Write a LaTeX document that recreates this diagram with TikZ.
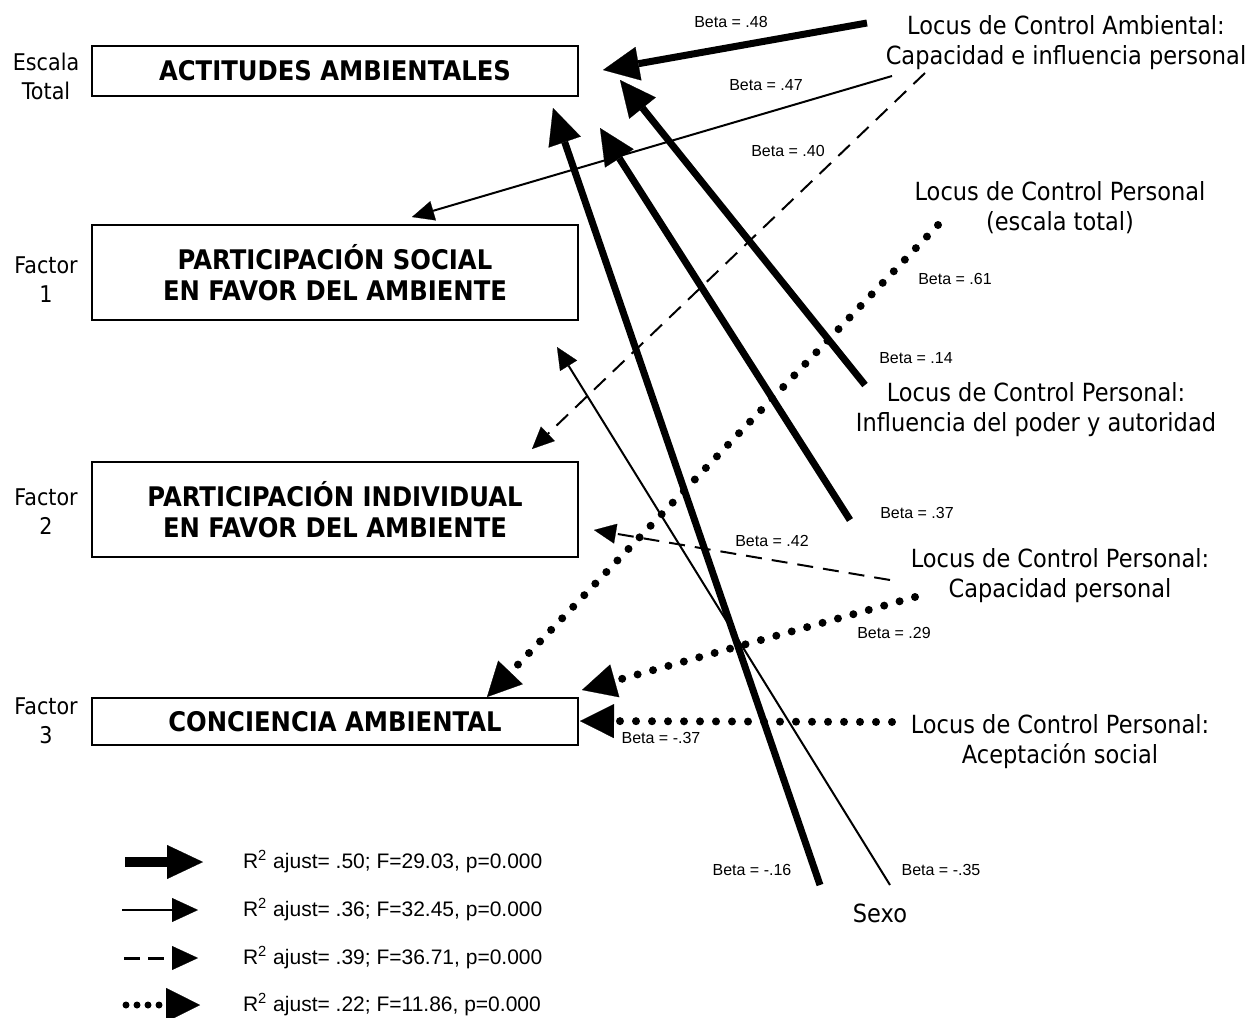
\documentclass[tikz,border=0pt]{standalone}
\usepackage{fontspec}
\setmainfont{DejaVu Sans}[FakeStretch=0.9]
\newfontfamily\arialfont{Liberation Sans}
\usetikzlibrary{arrows.meta}

\begin{document}
\begin{tikzpicture}[x=0.5pt,y=-0.5pt,
  box/.style={draw,line width=1pt,minimum width=243pt,inner sep=0pt,align=center,
    font=\fontsize{13.5}{15.5}\selectfont\bfseries},
  lbl/.style={align=center,font=\fontsize{11.5}{14.5}\selectfont},
  locus/.style={align=center,font=\fontsize{12.5}{15}\selectfont},
  beta/.style={font=\arialfont\fontsize{8}{9}\selectfont},
  leyenda/.style={anchor=west,font=\arialfont\fontsize{10.5}{12}\selectfont},
  gruesa/.style={line width=3.5pt,-{Triangle[length=18pt,width=17pt,line width=0.1pt]}},
  fina/.style={line width=1pt,-{Triangle[length=11pt,width=10pt,line width=0.1pt]}},
  rayas/.style={fina,dash pattern=on 8pt off 5pt},
  puntos/.style={line width=4pt,line cap=round,dash pattern=on 0pt off 8pt,
    -{Triangle[length=17pt,width=17pt,line width=0.1pt]}}
  ]
\useasboundingbox (0,0) rectangle (1250,1018);
%\draw[help lines,step=50] (0,0) grid (1250,1018);

% variables dependientes
\node[box,minimum height=25pt] (actitudes) at (335,71) {ACTITUDES AMBIENTALES};
\node[box,minimum height=47.5pt] (social) at (335,272.5)
  {PARTICIPACIÓN SOCIAL\\EN FAVOR DEL AMBIENTE};
\node[box,minimum height=47.5pt] (individual) at (335,509.5)
  {PARTICIPACIÓN INDIVIDUAL\\EN FAVOR DEL AMBIENTE};
\node[box,minimum height=23.5pt] (conciencia) at (335,721.5) {CONCIENCIA AMBIENTAL};

\node[lbl] (escala) at (46,76) {Escala\\Total};
\node[lbl] (f1) at (46,280) {Factor\\1};
\node[lbl] (f2) at (46,512) {Factor\\2};
\node[lbl] (f3) at (46,721) {Factor\\3};

% predictores
\node[locus] (lcamb) at (1066,43) {Locus de Control Ambiental:\\Capacidad e influencia personal};
\node[locus] (lcpers) at (1060,208) {Locus de Control Personal\\(escala total)};
\node[locus] (lcpoder) at (1036,410) {Locus de Control Personal:\\Influencia del poder y autoridad};
\node[locus] (lccap) at (1060,576) {Locus de Control Personal:\\Capacidad personal};
\node[locus] (lcacep) at (1060,742) {Locus de Control Personal:\\Aceptación social};
\node[locus] (sexo) at (880,913) {Sexo};

% extremos de las flechas
\coordinate (a1) at (867,23);   \coordinate (t1) at (603,70);
\coordinate (a2) at (892,76);   \coordinate (t2) at (412,217);
\coordinate (a3) at (925,73);   \coordinate (t3) at (532,449);
\coordinate (a4) at (938,225);  \coordinate (t4) at (487,697);
\coordinate (a5) at (865,385);  \coordinate (t5) at (620,80);
\coordinate (a6) at (850,520);  \coordinate (t6) at (600,128);
\coordinate (a7) at (820,885);  \coordinate (t7) at (553,108);
\coordinate (a8) at (890,885);  \coordinate (t8) at (557,347);
\coordinate (a9) at (890,580);  \coordinate (t9) at (594,530);
\coordinate (a10) at (915,597); \coordinate (t10) at (582,690);
\coordinate (a11) at (892,722); \coordinate (t11) at (580,721);

\draw[gruesa] (a1) -- (t1);
\draw[fina] (a2) -- (t2);
\draw[rayas] (a3) -- (t3);
\draw[puntos] (a4) -- (t4);
\draw[gruesa] (a5) -- (t5);
\draw[gruesa] (a6) -- (t6);
\draw[gruesa] (a7) -- (t7);
\draw[fina] (a8) -- (t8);
\draw[rayas] (a9) -- (t9);
\draw[puntos] (a10) -- (t10);
\draw[puntos] (a11) -- (t11);

\node[beta] (b1) at (731,22) {Beta = .48};
\node[beta] (b2) at (766,85) {Beta = .47};
\node[beta] (b3) at (788,151) {Beta = .40};
\node[beta] (b4) at (955,279) {Beta = .61};
\node[beta] (b5) at (916,358) {Beta = .14};
\node[beta] (b6) at (917,513) {Beta = .37};
\node[beta] (b7) at (772,541) {Beta = .42};
\node[beta] (b8) at (894,633) {Beta = .29};
\node[beta] (b9) at (661,738) {Beta = -.37};
\node[beta] (b10) at (752,870) {Beta = -.16};
\node[beta] (b11) at (941,870) {Beta = -.35};

% leyenda
\coordinate (l1) at (125,862);  \coordinate (m1) at (203,862);
\coordinate (l2) at (122,910);  \coordinate (m2) at (198,910);
\coordinate (l3) at (124,958);  \coordinate (m3) at (198,958);
\coordinate (l4) at (126,1005); \coordinate (m4) at (200,1005);
\draw[gruesa,line width=5pt] (l1) -- (m1);
\draw[fina,-{Triangle[length=13pt,width=12pt,line width=0.1pt]}] (l2) -- (m2);
\draw[rayas,line width=1.5pt,dash pattern=on 8pt off 4pt,-{Triangle[length=13pt,width=12pt,line width=0.1pt]}] (l3) -- (m3);
\draw[puntos,line width=3.5pt,dash pattern=on 0pt off 5.5pt] (l4) -- (m4);
\node[leyenda] (r1) at (236,862) {R\textsuperscript{2} ajust= .50; F=29.03, p=0.000};
\node[leyenda] (r2) at (236,910) {R\textsuperscript{2} ajust= .36; F=32.45, p=0.000};
\node[leyenda] (r3) at (236,958) {R\textsuperscript{2} ajust= .39; F=36.71, p=0.000};
\node[leyenda] (r4) at (236,1005) {R\textsuperscript{2} ajust= .22; F=11.86, p=0.000};
\end{tikzpicture}
\end{document}
